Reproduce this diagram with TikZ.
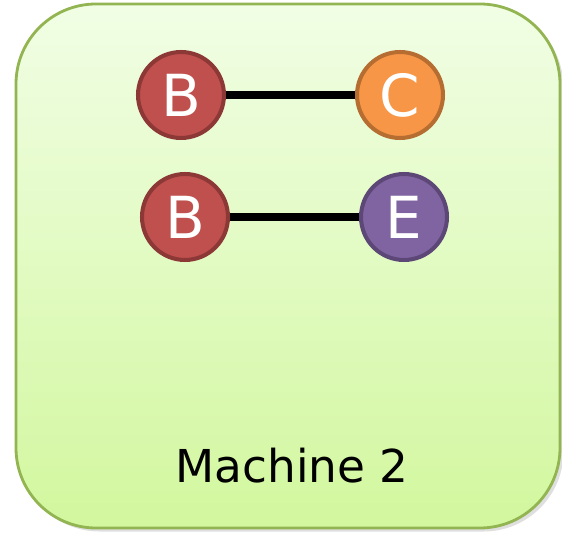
\documentclass[tikz,border=0pt]{standalone}
\usepackage{fontspec}
\setmainfont{DejaVu Sans}
\usetikzlibrary{shadows}
\definecolor{boxtop}{RGB}{241,254,229}
\definecolor{boxbottom}{RGB}{210,247,158}
\definecolor{boxline}{RGB}{146,181,82}
\definecolor{redfill}{RGB}{192,80,77}
\definecolor{redline}{RGB}{140,56,54}
\definecolor{orangefill}{RGB}{247,150,70}
\definecolor{orangeline}{RGB}{182,109,49}
\definecolor{purplefill}{RGB}{128,100,162}
\definecolor{purpleline}{RGB}{92,71,118}

\tikzset{
  vertex/.style={circle, minimum size=1.72cm, inner sep=0pt, line width=2.3pt,
    text=white, font=\fontsize{33}{36}\selectfont},
  redv/.style={vertex, fill=redfill, draw=redline},
  orangev/.style={vertex, fill=orangefill, draw=orangeline},
  purplev/.style={vertex, fill=purplefill, draw=purpleline},
  edge/.style={line width=4.6pt, black}
}

\begin{document}
\begin{tikzpicture}[x=0.02cm, y=-0.02cm]
        \useasboundingbox (0,0) rectangle (562,533);
        % machine box
        \shade[top color=boxtop, bottom color=boxbottom, draw=boxline, line width=1.6pt,
          rounded corners=1.6cm, drop shadow={shadow xshift=2pt, shadow yshift=-2pt, opacity=0.25}]
          (16,4) rectangle (560,528);
        % vertices
        \node[redv] (b1) at (181,95) {B};
        \node[orangev] (c) at (400,95) {C};
        \node[redv] (b2) at (185,217) {B};
        \node[purplev] (e) at (404,217) {E};
        % edges
        \draw[edge] (b1) -- (c);
        \draw[edge] (b2) -- (e);
        % text
        \node[font=\fontsize{25.8}{30}\selectfont] (label) at (292,466) {Machine 2};
    \end{tikzpicture}
\end{document}
